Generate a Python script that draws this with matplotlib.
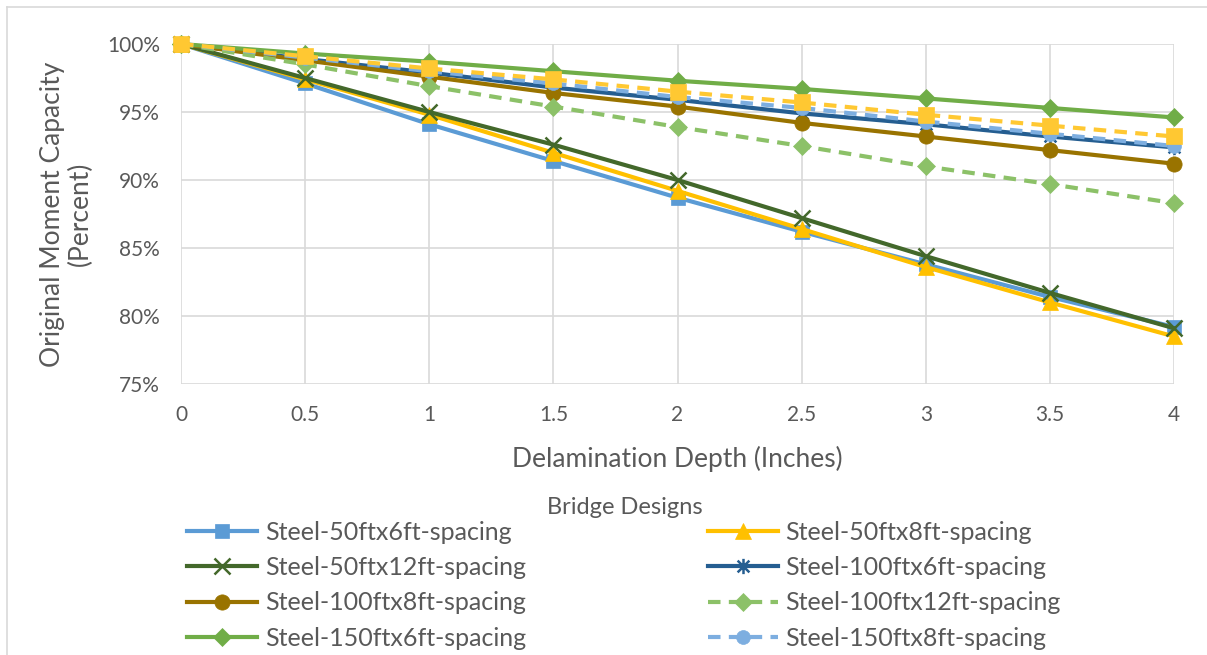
import matplotlib
matplotlib.use('Agg')
import matplotlib.pyplot as plt
from matplotlib.ticker import PercentFormatter
from matplotlib.lines import Line2D
from matplotlib.path import Path

plt.rcParams['font.family'] = ['Lato', 'DejaVu Sans']

# delamination depth (inches) and remaining moment capacity (percent)
depth = [0, 0.5, 1, 1.5, 2, 2.5, 3, 3.5, 4]
s50x6 = [100, 97.1, 94.1, 91.4, 88.7, 86.2, 83.8, 81.4, 79.2]
s50x8 = [100, 97.4, 94.8, 92.0, 89.2, 86.4, 83.6, 81.0, 78.5]
s50x12 = [100, 97.5, 95.0, 92.6, 90.0, 87.2, 84.4, 81.7, 79.1]
s100x6 = [100, 98.9, 97.9, 96.8, 95.9, 94.9, 94.1, 93.2, 92.4]
s100x8 = [100, 98.8, 97.6, 96.4, 95.4, 94.2, 93.2, 92.2, 91.2]
s100x12 = [100, 98.5, 96.9, 95.4, 93.9, 92.5, 91.0, 89.7, 88.3]
s150x6 = [100, 99.3, 98.7, 98.0, 97.3, 96.7, 96.0, 95.3, 94.6]
s150x8 = [100, 99.0, 98.0, 97.1, 96.1, 95.3, 94.3, 93.4, 92.5]
s150x12 = [100, 99.1, 98.2, 97.4, 96.5, 95.7, 94.8, 94.0, 93.2]

labels = ['Steel-50ftx6ft-spacing', 'Steel-50ftx8ft-spacing', 'Steel-50ftx12ft-spacing',
          'Steel-100ftx6ft-spacing', 'Steel-100ftx8ft-spacing', 'Steel-100ftx12ft-spacing',
          'Steel-150ftx6ft-spacing', 'Steel-150ftx8ft-spacing', 'Steel-150ftx12ft-spacing']
series = [s50x6, s50x8, s50x12, s100x6, s100x8, s100x12, s150x6, s150x8, s150x12]

# excel style asterisk marker (x with a vertical stroke)
aster = Path([(-1, -1), (1, 1), (-1, 1), (1, -1), (0, -1.3), (0, 1.3)],
             [Path.MOVETO, Path.LINETO, Path.MOVETO, Path.LINETO, Path.MOVETO, Path.LINETO])

colors = ['#5B9BD5', '#FFC000', '#43682B', '#255E91', '#997300', '#8CC168',
          '#70AD47', '#7DAEE0', '#FFC832']
markers = ['s', '^', 'x', aster, 'o', 'D', 'D', 'o', 's']
styles = ['-', '-', '-', '-', '-', '--', '-', '--', '--']
msizes = [10, 11, 11, 11, 11, 9, 9, 10, 12]
thin = [False, False, True, True, False, False, False, False, False]

fig = plt.figure(figsize=(12.07, 6.55), dpi=100)
ax = fig.add_axes([0.15, 0.4137, 0.8227, 0.5191])

lines = []
for y, lab, c, m, ls, ms, th in zip(series, labels, colors, markers, styles, msizes, thin):
    vals = [v / 100 for v in y]
    ln, = ax.plot(depth, vals, color=c, marker=m, linestyle=ls, linewidth=3,
                  markersize=ms, markeredgewidth=1.8 if th else 0.5,
                  markeredgecolor=c, label=lab, clip_on=False,
                  dashes=(3, 2) if ls == '--' else (None, None))
    lines.append(ln)

ax.set_xlim(0, 4)
ax.set_ylim(0.75, 1.0)
ax.set_xticks(depth)
ax.set_xticklabels(['0', '0.5', '1', '1.5', '2', '2.5', '3', '3.5', '4'])
ax.set_yticks([0.75, 0.80, 0.85, 0.90, 0.95, 1.0])
ax.yaxis.set_major_formatter(PercentFormatter(1.0, decimals=0))
ax.grid(True, color='#D9D9D9', linewidth=1.2)
ax.set_axisbelow(True)
for sp in ax.spines.values():
    sp.set_visible(False)
ax.tick_params(length=0, labelsize=15, colors='#595959')
ax.tick_params(axis='x', pad=15)
ax.tick_params(axis='y', pad=15)
ax.set_xlabel('Delamination Depth (Inches)', fontsize=19, color='#595959', labelpad=15)
ax.set_ylabel('Original Moment Capacity\n(Percent)', fontsize=19, color='#595959',
              labelpad=10, linespacing=1.15)

# legend fills row by row in the original, so reorder for matplotlib's column fill
order = [0, 2, 4, 6, 8, 1, 3, 5, 7]
fig.text(0.518, 1 - 507 / 655, 'Bridge Designs', ha='center', va='center',
         fontsize=17, color='#595959')
leg = fig.legend([lines[i] for i in order], [labels[i] for i in order],
                 loc='upper center', bbox_to_anchor=(0.517, 1 - 498 / 655),
                 ncol=2, frameon=False, fontsize=18, handlelength=2.8,
                 handletextpad=0.3, columnspacing=6.7, labelspacing=0.5)
for t in leg.get_texts():
    t.set_color('#595959')

# thin border along the top and left like the screenshot
fig.add_artist(Line2D([7 / 1207, 7 / 1207], [0, 1 - 7 / 655], color='#D9D9D9', lw=1.2))
fig.add_artist(Line2D([7 / 1207, 1], [1 - 7 / 655, 1 - 7 / 655], color='#D9D9D9', lw=1.2))

fig.savefig('out.png', dpi=100)
